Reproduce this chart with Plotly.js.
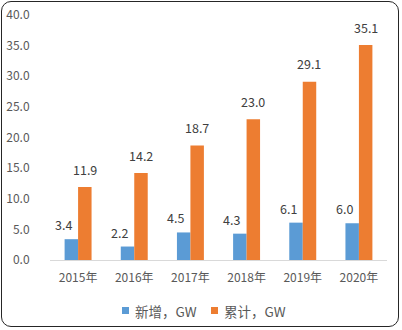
<!DOCTYPE html>
<html><head><meta charset="utf-8">
<script src="https://cdn.plot.ly/plotly-3.0.1.min.js"></script>
<style>
html,body{margin:0;padding:0;background:#fff;}
#wrap{position:relative;width:402px;height:330px;}
#frame{position:absolute;left:1px;top:1px;width:398px;height:326px;border:1px solid #262626;border-radius:10px;box-sizing:border-box;pointer-events:none;}
#chart{position:absolute;left:0;top:0;width:402px;height:330px;}
</style></head>
<body>
<div id="wrap"><div id="chart"></div><div id="frame"></div></div>
<script>
const categories = ['2015年','2016年','2017年','2018年','2019年','2020年'];
const newAdded = [3.4, 2.2, 4.5, 4.3, 6.1, 6.0];
const cumulative = [11.9, 14.2, 18.7, 23.0, 29.1, 35.1];
const seriesNames = ['新增，GW','累计，GW'];
const seriesColors = ['#5b9bd5','#ed7d31'];
const yTicks = [0,5,10,15,20,25,30,35,40];

const fam = '"Noto Sans CJK SC", "Noto Sans", sans-serif';
const font = {family:fam, size:12, color:'#595959'};
const labelFont = {family:fam, size:12.5, color:'#404040'};
const traces = [
  {type:'bar', x:categories, y:newAdded, name:seriesNames[0], marker:{color:seriesColors[0]}},
  {type:'bar', x:categories, y:cumulative, name:seriesNames[1], marker:{color:seriesColors[1]}}
];
// data labels (Excel-style placement)
const labelAnn = [];
newAdded.forEach((v,i)=>labelAnn.push({xref:'x', yref:'y', x:i-0.26, y:v, yanchor:'bottom', yshift:3,
  showarrow:false, text:v.toFixed(1), font:labelFont}));
cumulative.forEach((v,i)=>labelAnn.push({xref:'x', yref:'y', x:i+0.12, y:v, yanchor:'bottom', yshift:6.5,
  showarrow:false, text:v.toFixed(1), font:labelFont}));
// legend (paper coords: plot area x 50..387, y 15..260)
const L = 50, W = 337, B = 260, H = 245;
const px = x => (x - L) / W;
const py = y => (B - y) / H;
const legendX = [122, 211];
const shapes = legendX.map((x,i)=>({type:'rect', xref:'paper', yref:'paper',
  x0:px(x), x1:px(x+7), y0:py(307), y1:py(314), fillcolor:seriesColors[i], line:{width:0}}));
const legendAnn = legendX.map((x,i)=>({xref:'paper', yref:'paper', x:px(x+11), y:py(310.5),
  xanchor:'left', yanchor:'middle', showarrow:false, text:seriesNames[i],
  font:{family:fam, size:13.5, color:'#595959'}}));
const layout = {
  width:402, height:330,
  margin:{l:50, r:15, t:15, b:70},
  paper_bgcolor:'rgba(0,0,0,0)', plot_bgcolor:'rgba(0,0,0,0)',
  font:font,
  barmode:'group', bargap:0.52, bargroupgap:0,
  xaxis:{showline:true, linecolor:'#d9d9d9', linewidth:1, ticks:'outside', ticklen:7, tickcolor:'rgba(0,0,0,0)',
         tickfont:font, automargin:false},
  yaxis:{range:[0,40], tickvals:yTicks, ticktext:yTicks.map(v=>v.toFixed(1)), showgrid:false,
         zeroline:false, showline:false, tickfont:font, ticks:'outside', ticklen:17, tickcolor:'rgba(0,0,0,0)', automargin:false},
  showlegend:false,
  shapes:shapes, annotations:labelAnn.concat(legendAnn)
};
Plotly.newPlot('chart', traces, layout, {displayModeBar:false, staticPlot:true});
</script>
</body></html>
